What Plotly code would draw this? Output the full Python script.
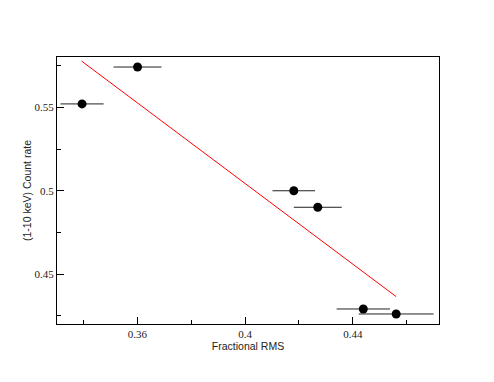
import plotly.graph_objects as go

# data
rms = [0.3395, 0.3601, 0.4181, 0.4270, 0.4439, 0.4561]
rms_err = [0.0080, 0.0089, 0.0079, 0.0089, 0.0099, 0.0139]
count_rate = [0.552, 0.5741, 0.5000, 0.4901, 0.4292, 0.4262]

fit_x = [0.3393, 0.4561]
fit_y = [0.5777, 0.4366]

x_tickvals = [0.36, 0.4, 0.44]
x_ticktext = ['0.36', '0.4', '0.44']
y_tickvals = [0.45, 0.5, 0.55]
y_ticktext = ['0.45', '0.5', '0.55']

fig = go.Figure()

fig.add_trace(go.Scatter(
    x=fit_x,
    y=fit_y,
    mode='lines',
    line=dict(color='red', width=1),
    showlegend=False
))

fig.add_trace(go.Scatter(
    x=rms,
    y=count_rate,
    mode='markers',
    marker=dict(size=9, color='black'),
    error_x=dict(type='data', array=rms_err, width=0, thickness=1, color='#222222'),
    showlegend=False
))

axis_common = dict(
    showline=True,
    linecolor='black',
    linewidth=1.2,
    mirror=True,
    showgrid=False,
    zeroline=False,
    automargin=False,
    ticks='inside',
    ticklen=7,
    tickcolor='black',
    tickfont=dict(family='Liberation Serif, Times New Roman, serif', size=11, color='#222222'),
)

fig.update_xaxes(
    **axis_common,
    range=[0.3302, 0.472],
    tickvals=x_tickvals,
    ticktext=x_ticktext,
    minor=dict(dtick=0.02, tick0=0, ticks='inside', ticklen=4, tickcolor='black'),
    title=dict(text='Fractional RMS', standoff=0,
               font=dict(family='Liberation Sans', size=10.5, color='#222222')),
)

fig.update_yaxes(
    **axis_common,
    range=[0.4202, 0.5801],
    tickvals=y_tickvals,
    ticktext=y_ticktext,
    minor=dict(dtick=0.025, tick0=0, ticks='inside', ticklen=4, tickcolor='black'),
    title=dict(text='(1-10 keV) Count rate', standoff=0,
               font=dict(family='Liberation Sans', size=10.5, color='#222222')),
)

# page body has an 8px margin, so the figure is shrunk to fit the window
fig.update_layout(
    width=486,
    height=374,
    margin=dict(l=49, r=55, t=49, b=58),
    plot_bgcolor='white',
    paper_bgcolor='white',
)

fig.write_html("out.html")
